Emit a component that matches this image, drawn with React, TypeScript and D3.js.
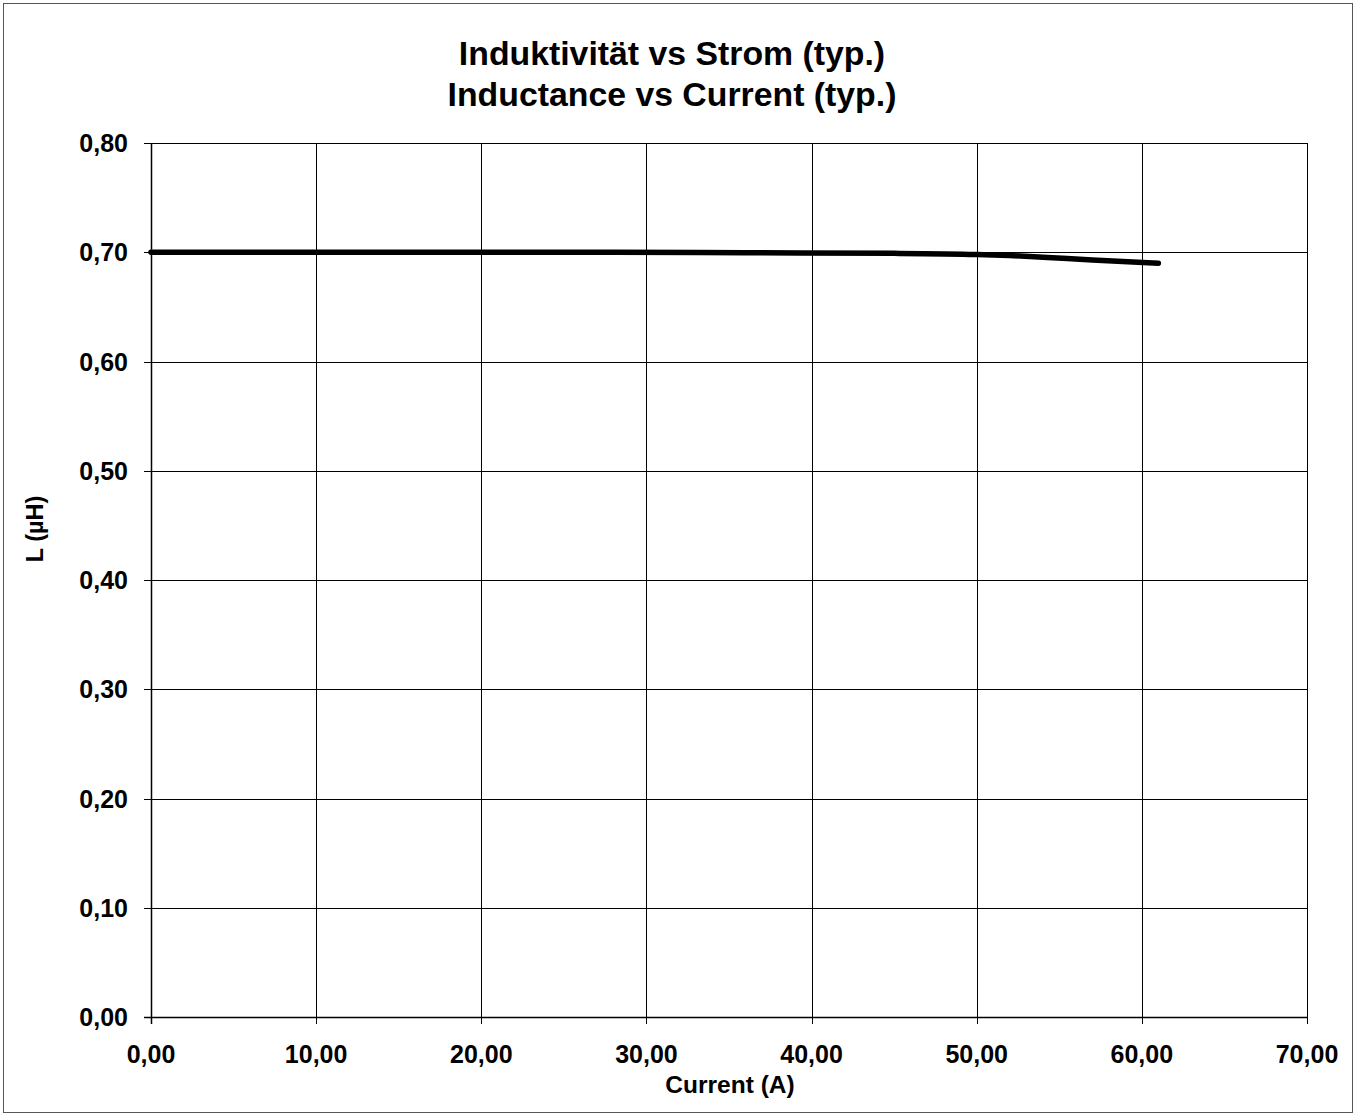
import React from "react";
import * as d3 from "d3";

const currentA = [0, 10, 20, 28, 36, 45, 50, 52, 54, 57, 61];
const inductanceUH = [0.7, 0.7, 0.7, 0.7, 0.6995, 0.699, 0.698, 0.697, 0.6955, 0.693, 0.69];
const xTicks = [0, 10, 20, 30, 40, 50, 60, 70];
const yTicks = [0, 0.1, 0.2, 0.3, 0.4, 0.5, 0.6, 0.7, 0.8];
const titleLines = ["Induktivität vs Strom (typ.)", "Inductance vs Current (typ.)"];
const xTitle = "Current (A)";
const yTitle = "L (µH)";

const W = 1356;
const H = 1115;
const M = { left: 151, top: 143, right: 1307, bottom: 1017 };
const font = "'Liberation Sans', Arial, sans-serif";

export default function App() {
  const x = d3.scaleLinear().domain([0, 70]).range([M.left, M.right]);
  const y = d3.scaleLinear().domain([0, 0.8]).range([M.bottom, M.top]);
  const fmt = (v: number, d: number) => v.toFixed(d).replace(".", ",");
  const pts: [number, number][] = currentA.map((c, i) => [c, inductanceUH[i]]);
  const line = d3
    .line<[number, number]>()
    .x((d) => x(d[0]))
    .y((d) => y(d[1]))
    .curve(d3.curveMonotoneX);

  return (
    <svg
      width={W}
      height={H}
      style={{ position: "absolute", left: 0, top: 0, background: "#fff" }}
      fontFamily={font}
    >
      <rect x={3.5} y={3.5} width={1349} height={1109} fill="#fff" stroke="#555" strokeWidth={1} />
      {/* grid */}
      {yTicks.map((t) => (
        <line key={"gy" + t} x1={M.left - 7} x2={M.right} y1={Math.round(y(t)) + 0.5} y2={Math.round(y(t)) + 0.5} stroke="#000" strokeWidth={1} />
      ))}
      {xTicks.map((t) => (
        <line key={"gx" + t} x1={Math.round(x(t)) + 0.5} x2={Math.round(x(t)) + 0.5} y1={M.top} y2={M.bottom + 7} stroke="#000" strokeWidth={1} />
      ))}
      {/* axes */}
      <line x1={M.left + 0.5} x2={M.left + 0.5} y1={M.top} y2={M.bottom + 7} stroke="#000" strokeWidth={1.5} />
      <line x1={M.left - 7} x2={M.right} y1={Math.round(y(0)) + 0.5} y2={Math.round(y(0)) + 0.5} stroke="#000" strokeWidth={1.5} />
      {/* y tick labels */}
      {yTicks.map((t) => (
        <text key={"ly" + t} x={128} y={y(t)} dy="0.36em" textAnchor="end" fontSize={25} fontWeight="bold" fill="#000">
          {fmt(t, 2)}
        </text>
      ))}
      {xTicks.map((t) => (
        <text key={"lx" + t} x={x(t)} y={1063} textAnchor="middle" fontSize={25} fontWeight="bold" fill="#000">
          {fmt(t, 2)}
        </text>
      ))}
      {/* series */}
      <path d={line(pts) || ""} fill="none" stroke="#000" strokeWidth={5.5} strokeLinecap="round" strokeLinejoin="round" />
      {/* titles */}
      {titleLines.map((t, i) => (
        <text key={t} x={672} y={65 + i * 41} textAnchor="middle" fontSize={33.8} fontWeight="bold" fill="#000">
          {t}
        </text>
      ))}
      <text x={730} y={1093} textAnchor="middle" fontSize={24.5} fontWeight="bold" fill="#000">
        {xTitle}
      </text>
      <text transform={`translate(43,529) rotate(-90)`} textAnchor="middle" fontSize={23.5} fontWeight="bold" fill="#000">
        {yTitle}
      </text>
    </svg>
  );
}
